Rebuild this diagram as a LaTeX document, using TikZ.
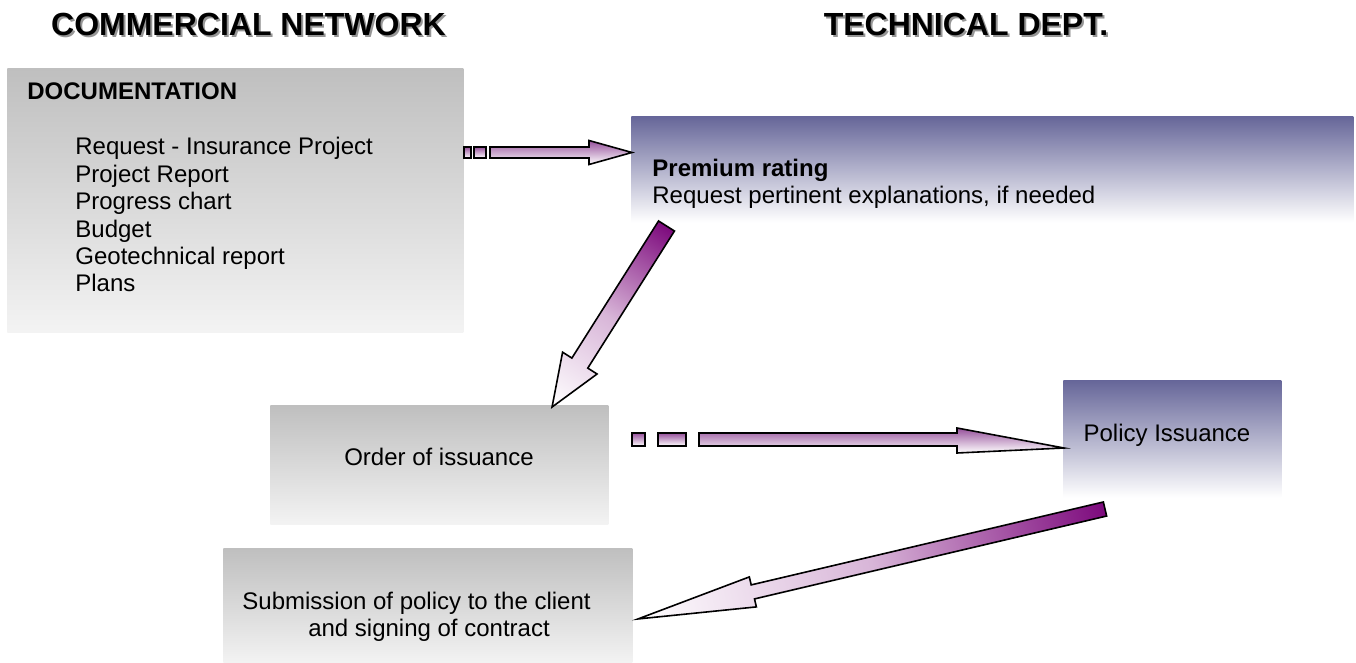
\documentclass[tikz,border=0pt]{standalone}
\usepackage{fontspec}
\setmainfont{Liberation Sans}
\usetikzlibrary{calc}
\definecolor{boxgrayT}{RGB}{191,191,191}
\definecolor{boxgrayB}{RGB}{243,243,243}
\definecolor{boxblueT}{RGB}{102,102,153}
\definecolor{arrpurple}{RGB}{125,10,125}
\definecolor{arrmauve}{RGB}{150,80,155}
\definecolor{shadowgray}{RGB}{150,150,150}
% #1 tail coordinate, #2 canvas angle, #3 length, #4 half shaft, #5 half head, #6 head length
\newcommand\diagarrow[6]{%
  \begin{scope}[transform canvas={shift={(#1)}, rotate=#2}]
    \path[darrow] (0pt,-#4) -- (#3-#6,-#4) -- (#3-#6,-#5) -- (#3,0pt)
      -- (#3-#6,#5) -- (#3-#6,#4) -- (0pt,#4) -- cycle;
  \end{scope}
}
\begin{document}
\begin{tikzpicture}[x=0.5pt,y=-0.5pt,
  txt/.style={inner sep=0pt, font=\fontsize{12pt}{13.7pt}\selectfont},
  boldtxt/.style={txt, font=\fontsize{12pt}{13.7pt}\selectfont\bfseries},
  titletxt/.style={inner sep=0pt, anchor=base, font=\fontsize{16pt}{19pt}\selectfont\bfseries},
  graybox/.style={shape=rectangle, inner sep=0pt, anchor=north west, top color=boxgrayT, bottom color=boxgrayB},
  bluebox/.style={shape=rectangle, inner sep=0pt, anchor=north west, top color=boxblueT, bottom color=white},
  harrow/.style={draw=black, line width=0.8pt, line join=miter, top color=arrmauve, bottom color=white},
  darrow/.style={draw=black, line width=0.8pt, line join=miter, left color=arrpurple, right color=white, middle color=arrpurple!30!white}]
\useasboundingbox (0,0) rectangle (1356,663);

% titles
\node[titletxt, text=shadowgray] at (250.5,38) {COMMERCIAL NETWORK};
\node[titletxt] (title1) at (248.5,36) {COMMERCIAL NETWORK};
\node[titletxt, text=shadowgray] at (968,38) {TECHNICAL DEPT.};
\node[titletxt] (title2) at (966,36) {TECHNICAL DEPT.};

% boxes
\node[graybox, minimum width=228pt, minimum height=132pt] (doc) at (7,68) {};
\node[bluebox, minimum width=361pt, minimum height=53pt] (prem) at (631,116) {};
\node[graybox, minimum width=169pt, minimum height=59.5pt] (order) at (270,405) {};
\node[bluebox, minimum width=109pt, minimum height=58.5pt] (policy) at (1063,380) {};
\node[graybox, minimum width=204.5pt, minimum height=57.5pt] (subm) at (223,548) {};

% texts
\node[boldtxt, anchor=base west] (doch) at (27,100) {DOCUMENTATION};
\node[txt, anchor=base west] (d1) at (75,155) {Request - Insurance Project};
\node[txt, anchor=base west] (d2) at (75,182.4) {Project Report};
\node[txt, anchor=base west] (d3) at (75,209.8) {Progress chart};
\node[txt, anchor=base west] (d4) at (75,237.2) {Budget};
\node[txt, anchor=base west] (d5) at (75,264.6) {Geotechnical report};
\node[txt, anchor=base west] (d6) at (75,292) {Plans};
\node[boldtxt, anchor=base west] (ph) at (652,177) {Premium rating};
\node[txt, anchor=base west] (pt) at (652,204) {Request pertinent explanations, if needed};
\node[txt, anchor=base] (ot) at (439,466) {Order of issuance};
\node[txt, anchor=base] (polt) at (1167,442) {Policy Issuance};
\node[txt, anchor=base] (s1) at (416.5,609) {Submission of policy to the client};
\node[txt, anchor=base] (s2) at (429,636) {and signing of contract};

% arrow 1 (documentation -> premium rating)
\coordinate (a1s) at (490,152.5);
\coordinate (a1t) at (632,152.5);
\path[harrow] (464,147) rectangle (471,158);
\path[harrow] (474,147) rectangle (486,158);
\path[harrow] ($(a1s)+(0,-5.5)$) -- ($(a1t)+(-43,-5.5)$) -- ($(a1t)+(-43,-12)$) -- (a1t)
  -- ($(a1t)+(-43,12)$) -- ($(a1t)+(-43,5.5)$) -- ($(a1s)+(0,5.5)$) -- cycle;

% arrow 2 (premium rating -> order of issuance)
\coordinate (a2s) at (666.5,226);
\coordinate (a2t) at (552,407);
\diagarrow{a2s}{237.7}{107.1pt}{4.7pt}{10.2pt}{26pt}

% arrow 3 (order of issuance -> policy issuance)
\coordinate (a3s) at (699,439.5);
\coordinate (a3t) at (1064,448);
\path[harrow] (632,433) rectangle (645,446);
\path[harrow] (658,433) rectangle (686,446);
\path[harrow] ($(a3s)+(0,-6.5)$) -- (957,433) -- (957,428) -- (a3t) -- (957,453) -- (957,446)
  -- ($(a3s)+(0,6.5)$) -- cycle;

% arrow 4 (policy issuance -> submission)
\coordinate (a4s) at (1105,509);
\coordinate (a4t) at (638,618);
\diagarrow{a4s}{193.25}{239.9pt}{3.6pt}{7.7pt}{59pt}
\end{tikzpicture}
\end{document}
